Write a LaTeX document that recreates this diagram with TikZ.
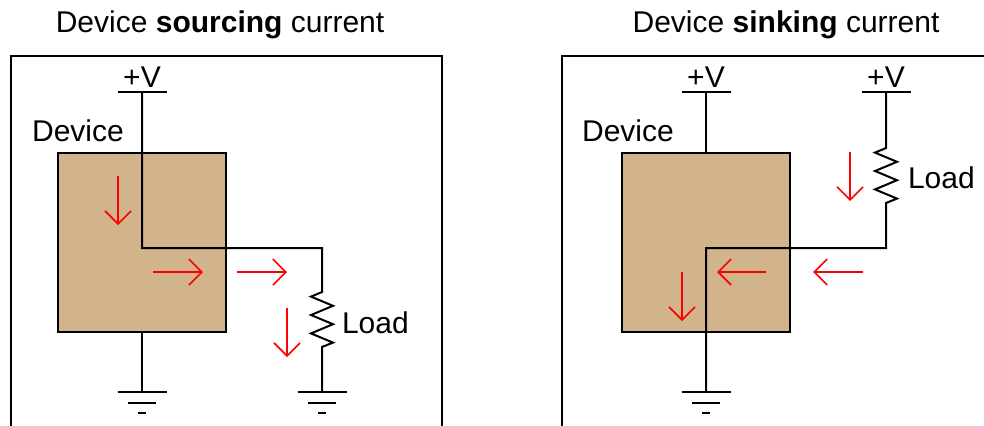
\documentclass[tikz,border=0pt]{standalone}
\usepackage{fontspec}
\setmainfont{Liberation Sans}
\usepackage{xcolor}
\usetikzlibrary{arrows.meta}
\usetikzlibrary{calc}
\usetikzlibrary{positioning}
\definecolor{devtan}{RGB}{210,180,140}

\begin{document}
\begin{tikzpicture}[x=0.5pt,y=-0.5pt,>={Straight Barb[length=6.5pt,width=13pt]},line width=1pt,font=\fontsize{15}{18}\selectfont]
  \tikzstyle{devbox}=[draw, fill=devtan, minimum width=84pt, minimum height=89.5pt, inner sep=0pt]
  \tikzstyle{flow}=[->, red, line width=0.8pt]
  \tikzstyle{lbl}=[inner sep=0pt, anchor=base]
  \useasboundingbox (0,0) rectangle (984,425);
  % frames
  \draw (11,430) -- (11,56) -- (442,56) -- (442,430);
  \draw (562,430) -- (562,56) -- (990,56);
  \node[lbl] (Ltitle) at (220,32) {Device \textbf{sourcing} current};
  \node[lbl] (Rtitle) at (786,32) {Device \textbf{sinking} current};
  % left: sourcing
  \node[devbox] (Lbox) at (142,242.5) {};
  \node[lbl] (Ldev) at (78,141) {Device};
  \coordinate (Lvcc) at (142,92);
  \coordinate (Lbend) at (142,248);
  \coordinate (Lcorner) at (322,248);
  \coordinate (Lrtop) at (322,292);
  \coordinate (Lrbot) at (322,347);
  \coordinate (Lgnd) at (142,392);
  \coordinate (Lrgnd) at (322,392);
  \draw (Lvcc) -- (Lbend) -- (Lcorner) -- (Lrtop)
    -- ++(-11,4.6) -- ++(22,9.2) -- ++(-22,9.2) -- ++(22,9.2) -- ++(-22,9.2) -- ++(22,9.2)
    -- (Lrbot) -- (Lrgnd);
  \draw (Lbox.south) -- (Lgnd);
  \node[lbl, anchor=base west] (Lload) at (341,333) {Load};
  \draw[flow] (118,176) -- ++(0,49);
  \draw[flow] (153,272) -- ++(50,0);
  \draw[flow] (237,272) -- ++(50,0);
  \draw[flow] (287,308) -- ++(0,49);
  % right: sinking
  \node[devbox] (Rbox) at (706,242.5) {};
  \node[lbl] (Rdev) at (628,141) {Device};
  \coordinate (Rvcc) at (706,92);
  \coordinate (Rlvcc) at (886,92);
  \coordinate (Rrtop) at (886,148);
  \coordinate (Rrbot) at (886,203);
  \coordinate (Rcorner) at (886,248);
  \coordinate (Rbend) at (706,248);
  \coordinate (Rgnd) at (706,392);
  \draw (Rvcc) -- (Rbox.north);
  \draw (Rlvcc) -- (Rrtop)
    -- ++(-11,4.6) -- ++(22,9.2) -- ++(-22,9.2) -- ++(22,9.2) -- ++(-22,9.2) -- ++(22,9.2)
    -- (Rrbot) -- (Rcorner) -- (Rbend) -- (Rgnd);
  \node[lbl, anchor=base west] (Rload) at (907,188) {Load};
  \draw[flow] (850,152) -- ++(0,49);
  \draw[flow] (766,272) -- ++(-49,0);
  \draw[flow] (863,272) -- ++(-50,0);
  \draw[flow] (682,272) -- ++(0,49);
  % supplies and grounds
  \foreach \v in {Lvcc,Rvcc,Rlvcc} {
    \draw ($(\v)+(-24.5,0)$) -- ($(\v)+(24.5,0)$);
    \node[above=2pt of \v, inner sep=0pt] (\v-txt) {+V};
  }
  \foreach \g in {Lgnd,Lrgnd,Rgnd} {
    \draw ($(\g)+(-24.5,0)$) -- ($(\g)+(24.5,0)$);
    \draw ($(\g)+(-14,11)$) -- ($(\g)+(14,11)$);
    \draw ($(\g)+(-3.7,21)$) -- ($(\g)+(3.7,21)$);
  }
\end{tikzpicture}
\end{document}
